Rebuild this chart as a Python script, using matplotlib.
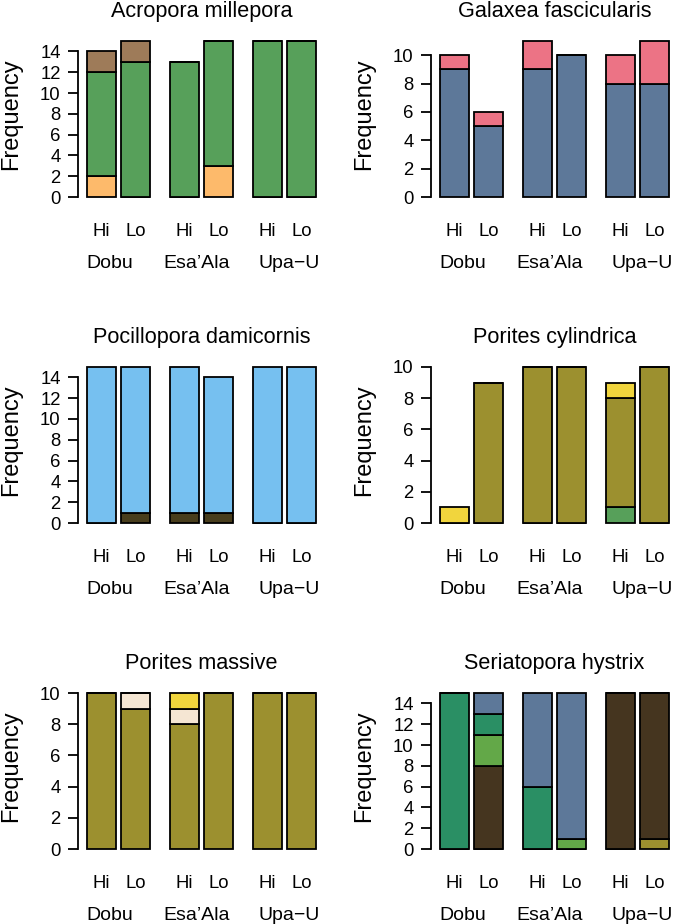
import matplotlib
matplotlib.use('Agg')
import matplotlib.pyplot as plt

plt.rcParams['font.family'] = ['Liberation Sans', 'DejaVu Sans']

sites = ['Dobu', 'Esa\u2019Ala', 'Upa\u2212U']
levels = ['Hi', 'Lo']

# bars in order Dobu Hi, Dobu Lo, Esa'Ala Hi, Esa'Ala Lo, Upa-U Hi, Upa-U Lo
# each species: list of (colour, counts) from bottom to top of the stack
acropora_orange = [2, 0, 0, 3, 0, 0]
acropora_green = [10, 13, 13, 12, 15, 15]
acropora_brown = [2, 2, 0, 0, 0, 0]

galaxea_blue = [9, 5, 9, 10, 8, 8]
galaxea_pink = [1, 1, 2, 0, 2, 3]

pocillopora_dark = [0, 1, 1, 1, 0, 0]
pocillopora_blue = [15, 14, 14, 13, 15, 15]

cylindrica_green = [0, 0, 0, 0, 1, 0]
cylindrica_olive = [0, 9, 10, 10, 7, 10]
cylindrica_yellow = [1, 0, 0, 0, 1, 0]

massive_olive = [10, 9, 8, 10, 10, 10]
massive_cream = [0, 1, 1, 0, 0, 0]
massive_yellow = [0, 0, 1, 0, 0, 0]

seriatopora_olive = [0, 0, 0, 0, 0, 1]
seriatopora_dark = [0, 8, 0, 0, 15, 14]
seriatopora_lgreen = [0, 3, 0, 1, 0, 0]
seriatopora_teal = [15, 2, 6, 0, 0, 0]
seriatopora_blue = [0, 2, 9, 14, 0, 0]

panels = [
	('Acropora millepora', [('#FDBA6B', acropora_orange), ('#57A05A', acropora_green), ('#9E7B59', acropora_brown)], 14),
	('Galaxea fascicularis', [('#5D7899', galaxea_blue), ('#EC7385', galaxea_pink)], 10),
	('Pocillopora damicornis', [('#483D1C', pocillopora_dark), ('#76C0F0', pocillopora_blue)], 14),
	('Porites cylindrica', [('#57A05A', cylindrica_green), ('#9C902F', cylindrica_olive), ('#F1D53D', cylindrica_yellow)], 10),
	('Porites massive', [('#9C902F', massive_olive), ('#F5E6D3', massive_cream), ('#F1D53D', massive_yellow)], 10),
	('Seriatopora hystrix', [('#9C902F', seriatopora_olive), ('#45351F', seriatopora_dark), ('#63A848', seriatopora_lgreen),
		('#2A8F64', seriatopora_teal), ('#5D7899', seriatopora_blue)], 14),
]

W, H = 673, 924

def draw_panel(fig, idx, title, stacks, top_tick):
	r = idx // 2
	c = idx % 2
	x0 = 87 + 353 * c          # left edge of first bar, pixels
	y0 = 197 + 326 * r         # zero line, pixels from top
	y1 = 41 + 326 * r          # top of tallest bar
	ax = fig.add_axes([(x0 - 9) / W, 1 - y0 / H, 238 / W, (y0 - y1) / H])

	lefts = []
	for g in range(3):
		for k in range(2):
			lefts.append(9 + 83 * g + 34 * k)
	centers = [l + 14.5 for l in lefts]

	bottom = [0] * 6
	for colour, vals in stacks:
		ax.bar(centers, vals, width=29, bottom=bottom, color=colour,
			edgecolor='black', linewidth=1.3, clip_on=False)
		bottom = [b + v for b, v in zip(bottom, vals)]
	ymax = max(bottom)

	ax.set_xlim(0, 238)
	ax.set_ylim(0, ymax)
	for s in ['top', 'right', 'bottom']:
		ax.spines[s].set_visible(False)
	ax.spines['left'].set_bounds(0, top_tick)
	ax.spines['left'].set_linewidth(1.3)
	ax.set_yticks(range(0, top_tick + 1, 2))
	ax.tick_params(axis='y', length=7.5, width=1.3, pad=5, labelsize=13.3)
	ax.set_xticks([])

	for i in range(6):
		fig.text((x0 - 9 + centers[i]) / W, 1 - (236.5 + 326 * r) / H, levels[i % 2],
			ha='center', va='baseline', fontsize=13.3)
	for g, name in enumerate(sites):
		fig.text((x0 + [23, 109.5, 202.5][g]) / W, 1 - (268 + 326 * r) / H, name,
			ha='center', va='baseline', fontsize=14)

	fig.text((x0 + 114.5) / W, 1 - (17 + 326 * r) / H, title,
		ha='center', va='baseline', fontsize=15.6)
	fig.text((x0 - 76) / W, 1 - (114 + 326 * r) / H, 'Frequency',
		ha='center', va='center', rotation=90, fontsize=17)

def main():
	fig = plt.figure(figsize=(W / 100, H / 100), dpi=100)
	for i, (title, stacks, top_tick) in enumerate(panels):
		draw_panel(fig, i, title, stacks, top_tick)
	fig.savefig('out.png', dpi=100)

if __name__ == '__main__':
	main()
